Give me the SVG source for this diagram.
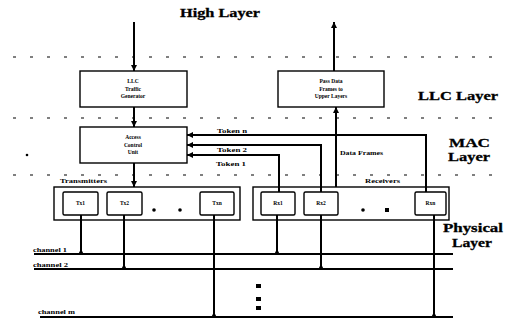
<svg xmlns="http://www.w3.org/2000/svg" width="505" height="320" viewBox="0 0 505 320">
<style>
text{font-family:"Liberation Serif","DejaVu Serif",serif;font-weight:bold;fill:#000}
.lay{font-size:13px;font-weight:900;stroke:#000;stroke-width:0.3}
.bx{font-size:5.5px;text-anchor:middle}
.sm{font-size:6.5px}
.box{fill:#fff;stroke:#000;stroke-width:1.4}
.grp{fill:none;stroke:#000;stroke-width:1.4}
.ln{fill:none;stroke:#000;stroke-width:2}
.dot{fill:none;stroke:#000;stroke-width:1.2;stroke-dasharray:3 14}
</style>
<defs>
<marker id="ah" viewBox="0 0 6 6" refX="6" refY="3" markerWidth="3" markerHeight="3" orient="auto" markerUnits="strokeWidth">
<path d="M0,0 L6,3 L0,6 z" fill="#000"/>
</marker>
</defs>
<rect width="505" height="320" fill="#fff"/>
<g id="layers">
<text class="lay" x="180" y="17" textLength="80" lengthAdjust="spacingAndGlyphs">High Layer</text>
<text class="lay" x="418" y="100" textLength="80" lengthAdjust="spacingAndGlyphs">LLC Layer</text>
<text class="lay" x="449" y="147" textLength="41" lengthAdjust="spacingAndGlyphs">MAC</text>
<text class="lay" x="448" y="161" textLength="42" lengthAdjust="spacingAndGlyphs">Layer</text>
<text class="lay" x="443" y="232" textLength="60" lengthAdjust="spacingAndGlyphs">Physical</text>
<text class="lay" x="452" y="247" textLength="40" lengthAdjust="spacingAndGlyphs">Layer</text>
<line class="dot" x1="13" y1="57" x2="495" y2="57"/>
<line class="dot" x1="13" y1="118" x2="495" y2="118"/>
<line class="dot" x1="13" y1="175" x2="495" y2="175"/>
<circle cx="27" cy="155" r="1.3" fill="#000"/>
</g>
<g id="connectors">
<line class="ln" x1="134" y1="22" x2="134" y2="71" marker-end="url(#ah)"/>
<line class="ln" x1="334" y1="71" x2="334" y2="22" marker-end="url(#ah)"/>
<line class="ln" x1="134" y1="107" x2="134" y2="127" marker-end="url(#ah)"/>
<line class="ln" x1="134" y1="163" x2="134" y2="187" marker-end="url(#ah)"/>
<line class="ln" x1="336" y1="187" x2="336" y2="107" marker-end="url(#ah)"/>
<polyline class="ln" points="426,192 426,135 187,135" marker-end="url(#ah)"/>
<polyline class="ln" points="321,192 321,145 187,145" marker-end="url(#ah)"/>
<polyline class="ln" points="279,192 279,155 187,155" marker-end="url(#ah)"/>
<text class="sm" x="217" y="133" textLength="30" lengthAdjust="spacingAndGlyphs">Token n</text>
<text class="sm" x="217" y="152" textLength="30" lengthAdjust="spacingAndGlyphs">Token 2</text>
<text class="sm" x="216" y="166" textLength="30" lengthAdjust="spacingAndGlyphs">Token 1</text>
<text class="sm" x="340" y="155" textLength="43" lengthAdjust="spacingAndGlyphs">Data Frames</text>
<line class="ln" x1="81" y1="215" x2="81" y2="254"/>
<line class="ln" x1="124" y1="215" x2="124" y2="269"/>
<line class="ln" x1="214" y1="215" x2="214" y2="317"/>
<line class="ln" x1="277" y1="215" x2="277" y2="254"/>
<line class="ln" x1="321" y1="215" x2="321" y2="269"/>
<line class="ln" x1="434" y1="215" x2="434" y2="317"/>
<line class="ln" x1="34" y1="254" x2="453" y2="254"/>
<line class="ln" x1="34" y1="269" x2="453" y2="269"/>
<line class="ln" x1="40" y1="317" x2="453" y2="317"/>
<circle cx="81" cy="253" r="2"/><circle cx="124" cy="268" r="2"/><circle cx="214" cy="316" r="2"/>
<circle cx="277" cy="253" r="2"/><circle cx="321" cy="268" r="2"/><circle cx="434" cy="316" r="2"/>
<text class="sm" x="33" y="252" textLength="34" lengthAdjust="spacingAndGlyphs">channel 1</text>
<text class="sm" x="33" y="267" textLength="35" lengthAdjust="spacingAndGlyphs">channel 2</text>
<text class="sm" x="38" y="314" textLength="37" lengthAdjust="spacingAndGlyphs">channel m</text>
<rect x="256" y="284" width="5" height="4"/>
<rect x="256" y="297" width="5" height="4"/>
<rect x="256" y="306" width="5" height="4"/>
</g>
<g id="llc">
<rect class="box" x="80" y="71" width="107" height="36"/>
<text class="bx" x="133" y="83">LLC</text>
<text class="bx" x="133" y="90.5">Traffic</text>
<text class="bx" x="133" y="98">Generator</text>
</g>
<g id="pass">
<rect class="box" x="278" y="71" width="106" height="36"/>
<text class="bx" x="331" y="83">Pass Data</text>
<text class="bx" x="331" y="90.5">Frames to</text>
<text class="bx" x="331" y="98">Upper Layers</text>
</g>
<g id="access">
<rect class="box" x="80" y="127" width="107" height="36"/>
<text class="bx" x="133" y="139">Access</text>
<text class="bx" x="133" y="146.5">Control</text>
<text class="bx" x="133" y="154">Unit</text>
</g>
<g id="transmitters">
<text class="sm" x="60" y="183" textLength="47" lengthAdjust="spacingAndGlyphs">Transmitters</text>
<rect class="grp" x="54" y="187" width="186" height="33"/>
<rect class="box" x="63" y="192" width="35" height="23" rx="1.5"/>
<text class="bx" x="80.5" y="205">Tx1</text>
<rect class="box" x="107" y="192" width="35" height="23" rx="1.5"/>
<text class="bx" x="124.5" y="205">Tx2</text>
<rect class="box" x="200" y="192" width="34" height="23" rx="1.5"/>
<text class="bx" x="217" y="205">Txn</text>
<circle cx="154" cy="210" r="1.8"/>
<circle cx="180" cy="210" r="1.8"/>
</g>
<g id="receivers">
<text class="sm" x="365" y="183" textLength="35" lengthAdjust="spacingAndGlyphs">Receivers</text>
<rect class="grp" x="253" y="187" width="196" height="33"/>
<rect class="box" x="261" y="192" width="34" height="23" rx="1.5"/>
<text class="bx" x="278" y="205">Rx1</text>
<rect class="box" x="304" y="192" width="34" height="23" rx="1.5"/>
<text class="bx" x="321" y="205">Rx2</text>
<rect class="box" x="415" y="192" width="31" height="23" rx="1.5"/>
<text class="bx" x="430.5" y="205">Rxn</text>
<circle cx="363" cy="210" r="1.8"/>
<rect x="385" y="208" width="4" height="4"/>
</g>
</svg>
